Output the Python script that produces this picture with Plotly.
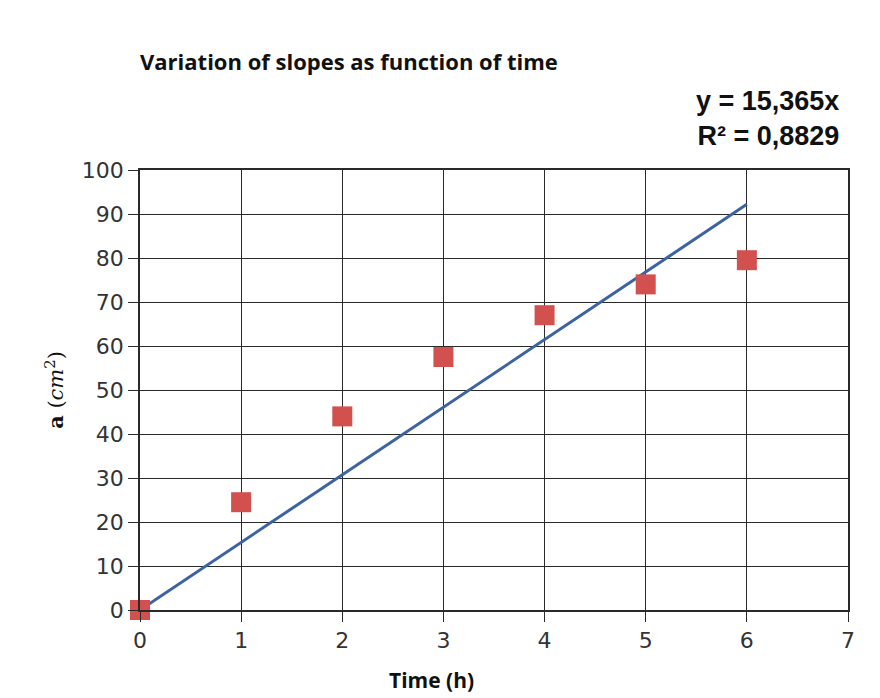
import plotly.graph_objects as go

time_h = [0, 1, 2, 3, 4, 5, 6]
slope_a = [0, 24.5, 44, 57.5, 67, 74, 79.5]
trend_x = [0, 6]
trend_slope = 15.365
trend_y = [trend_slope * x for x in trend_x]
x_ticks = [0, 1, 2, 3, 4, 5, 6, 7]
y_ticks = [0, 10, 20, 30, 40, 50, 60, 70, 80, 90, 100]

fig = go.Figure()
fig.add_trace(go.Scatter(x=trend_x, y=trend_y, mode="lines",
                         line=dict(color="#3b63a3", width=3), showlegend=False))
fig.add_trace(go.Scatter(x=time_h, y=slope_a, mode="markers",
                         marker=dict(symbol="square", size=20, color="#d2504e"),
                         cliponaxis=False, showlegend=False))

axis_common = dict(showgrid=True, gridcolor="#2a2a2a", gridwidth=1,
                   showline=True, linecolor="#2a2a2a", linewidth=1.5,
                   ticks="outside", ticklen=10, tickcolor="#2a2a2a",
                   tickfont=dict(family="DejaVu Sans, Liberation Sans", size=22, color="#333"),
                   zeroline=False, mirror=True)

fig.update_layout(
    width=872, height=690,
    paper_bgcolor="white", plot_bgcolor="white",
    margin=dict(l=132, r=32, t=162, b=88),
    xaxis=dict(range=[0, 7], tickvals=x_ticks, **axis_common),
    yaxis=dict(range=[0, 100], tickvals=y_ticks, **axis_common,
               title=dict(text="<b>a</b> (<i>cm</i><sup>2</sup>)", standoff=12,
                          font=dict(family="DejaVu Serif, Liberation Serif", size=21, color="#111"))),
    annotations=[
        dict(text="<b>Variation of slopes as function of time</b>", xref="paper", yref="paper",
             x=-0.003, y=1.247, xanchor="left", yanchor="middle", showarrow=False,
             font=dict(family="Open Sans, Lato", size=22, color="#111")),
        dict(text="<b>y = 15,365x<br>R² = 0,8829</b>", xref="paper", yref="paper",
             x=0.99, y=1.118, xanchor="right", yanchor="middle", align="right", showarrow=False,
             font=dict(family="Liberation Sans, Arial", size=27, color="#111")),
        dict(text="<b>Time (h)</b>", xref="paper", yref="paper",
             x=0.412, y=-0.16, xanchor="center", yanchor="middle", showarrow=False,
             font=dict(family="Open Sans, Lato", size=21, color="#111")),
    ],
)

fig.write_html("out.html")
